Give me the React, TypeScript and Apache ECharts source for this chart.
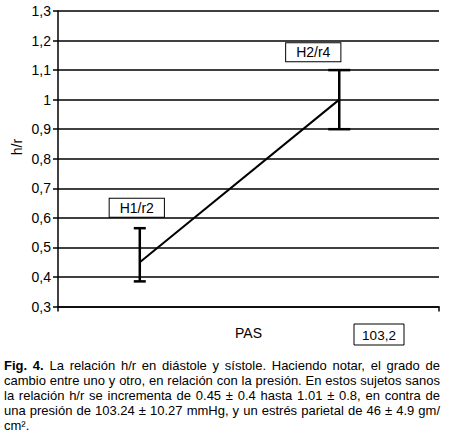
import React, { useEffect, useRef } from 'react';
import * as echarts from 'echarts';

// ---- data ----
const categories = ['H1/r2', 'H2/r4'];
const xPositions = [1, 2];
const means = [0.45, 1.0];
const lows = [0.385, 0.9];
const highs = [0.565, 1.1];
const yMin = 0.3;
const yMax = 1.3;
const yStep = 0.1;
const xAxisName = 'PAS';
const yAxisName = 'h/r';
const pressureBox = '103,2';
const captionBold = 'Fig. 4.';
const captionLines = [
  ' La relación h/r en diástole y sístole. Haciendo notar, el grado de',
  'cambio entre uno y otro, en relación con la presión. En estos sujetos sanos',
  'la relación h/r se incrementa de 0.45 ± 0.4 hasta 1.01 ± 0.8, en contra de',
  'una presión de 103.24 ± 10.27 mmHg, y un estrés parietal de 46 ± 4.9 gm/',
  'cm².',
];

// ---- styles ----
const FONT = '"Liberation Sans", Arial, Helvetica, sans-serif';
const capWidths = [12, 22];
const labelDistances = [45, 38];
const labelOffsets = [[-3, 0], [-26, 0]];

export default function App() {
  const ref = useRef<HTMLDivElement>(null);

  useEffect(() => {
    if (!ref.current) return;
    const chart = echarts.init(ref.current, undefined, { renderer: 'svg' });

    const lineData = xPositions.map((x, i) => [x, means[i]]);

    const labelData = xPositions.map((x, i) => ({
      value: [x, means[i]],
      name: categories[i],
      label: {
        distance: labelDistances[i],
        offset: labelOffsets[i],
      },
    }));

    const errData = xPositions.map((x, i) => [x, lows[i], highs[i], i]);

    chart.setOption({
      animation: false,
      grid: { left: 58, right: 12, top: 11, bottom: 43.5, containLabel: false },
      xAxis: {
        type: 'value',
        min: 0.59,
        max: 2.5,
        name: xAxisName,
        nameLocation: 'middle',
        nameGap: 19,
        nameTextStyle: { fontFamily: FONT, fontSize: 14, color: '#000' },
        axisLine: { show: true, lineStyle: { color: '#000', width: 1.5 } },
        axisTick: {
          show: true,
          customValues: [0.59, 2.5],
          length: 5,
          lineStyle: { color: '#000', width: 1.5 },
        },
        axisLabel: { show: false },
        splitLine: { show: false },
      },
      yAxis: {
        type: 'value',
        min: yMin,
        max: yMax,
        interval: yStep,
        axisLine: { show: true, lineStyle: { color: '#000', width: 1.5 } },
        axisTick: { show: true, length: 5, lineStyle: { color: '#000', width: 1.5 } },
        axisLabel: {
          margin: 7,
          fontFamily: FONT,
          fontSize: 14,
          color: '#000',
          formatter: (v: number) => String(Math.round(v * 10) / 10).replace('.', ','),
        },
        splitLine: { show: true, lineStyle: { color: '#000', width: 1.5 } },
      },
      graphic: [
        {
          type: 'text',
          x: 17,
          y: 147,
          rotation: Math.PI / 2,
          style: {
            text: yAxisName,
            font: `14px ${FONT}`,
            fill: '#000',
            align: 'center',
            verticalAlign: 'middle',
          },
        },
        {
          type: 'group',
          x: 354,
          y: 324,
          children: [
            {
              type: 'rect',
              shape: { x: 0, y: 0, width: 50, height: 21 },
              style: { fill: '#fff', stroke: '#000', lineWidth: 1 },
            },
            {
              type: 'text',
              x: 25,
              y: 11,
              style: {
                text: pressureBox,
                font: `13.5px ${FONT}`,
                fill: '#000',
                align: 'center',
                verticalAlign: 'middle',
              },
            },
          ],
        },
      ],
      series: [
        {
          type: 'line',
          data: lineData,
          symbol: 'none',
          lineStyle: { color: '#000', width: 2 },
          z: 3,
        },
        {
          type: 'scatter',
          data: labelData,
          symbol: 'circle',
          symbolSize: 1,
          itemStyle: { color: 'rgba(0,0,0,0)', opacity: 1 },
          label: {
            show: true,
            position: 'top',
            formatter: '{b}',
            fontFamily: FONT,
            fontSize: 14,
            color: '#000',
            opacity: 1,
            backgroundColor: '#fff',
            borderColor: '#000',
            borderWidth: 1,
            padding: [2, 10, 2, 10],
            lineHeight: 14,
          },
          emphasis: { disabled: true },
          z: 5,
        },
        {
          type: 'custom',
          data: errData,
          encode: { x: 0, y: [1, 2] },
          renderItem: (params: any, api: any) => {
            const x = api.value(0);
            const lo = api.coord([x, api.value(1)]);
            const hi = api.coord([x, api.value(2)]);
            const hw = capWidths[api.value(3)] / 2;
            const style = { stroke: '#000', lineWidth: 2.5 };
            return {
              type: 'group',
              children: [
                { type: 'line', shape: { x1: lo[0], y1: lo[1], x2: hi[0], y2: hi[1] }, style },
                { type: 'line', shape: { x1: lo[0] - hw, y1: lo[1], x2: lo[0] + hw, y2: lo[1] }, style },
                { type: 'line', shape: { x1: hi[0] - hw, y1: hi[1], x2: hi[0] + hw, y2: hi[1] }, style },
              ],
            };
          },
          z: 4,
        },
      ],
    });

    return () => chart.dispose();
  }, []);

  return (
    <div style={{ position: 'absolute', left: 0, top: 0, width: 451, height: 436, background: '#fff' }}>
      <div ref={ref} style={{ position: 'absolute', left: 0, top: 0, width: 451, height: 350 }} />
      <div
        style={{
          position: 'absolute',
          left: 4,
          top: 358,
          width: 436,
          fontFamily: FONT,
          fontSize: 13,
          lineHeight: '15px',
          color: '#000',
        }}
      >
        {captionLines.map((line, i) => (
          <div
            key={i}
            style={{
              textAlign: i < captionLines.length - 1 ? 'justify' : 'left',
              textAlignLast: i < captionLines.length - 1 ? 'justify' : 'left',
              whiteSpace: 'nowrap',
            }}
          >
            {i === 0 ? <b>{captionBold}</b> : null}
            {line}
          </div>
        ))}
      </div>
    </div>
  );
}
